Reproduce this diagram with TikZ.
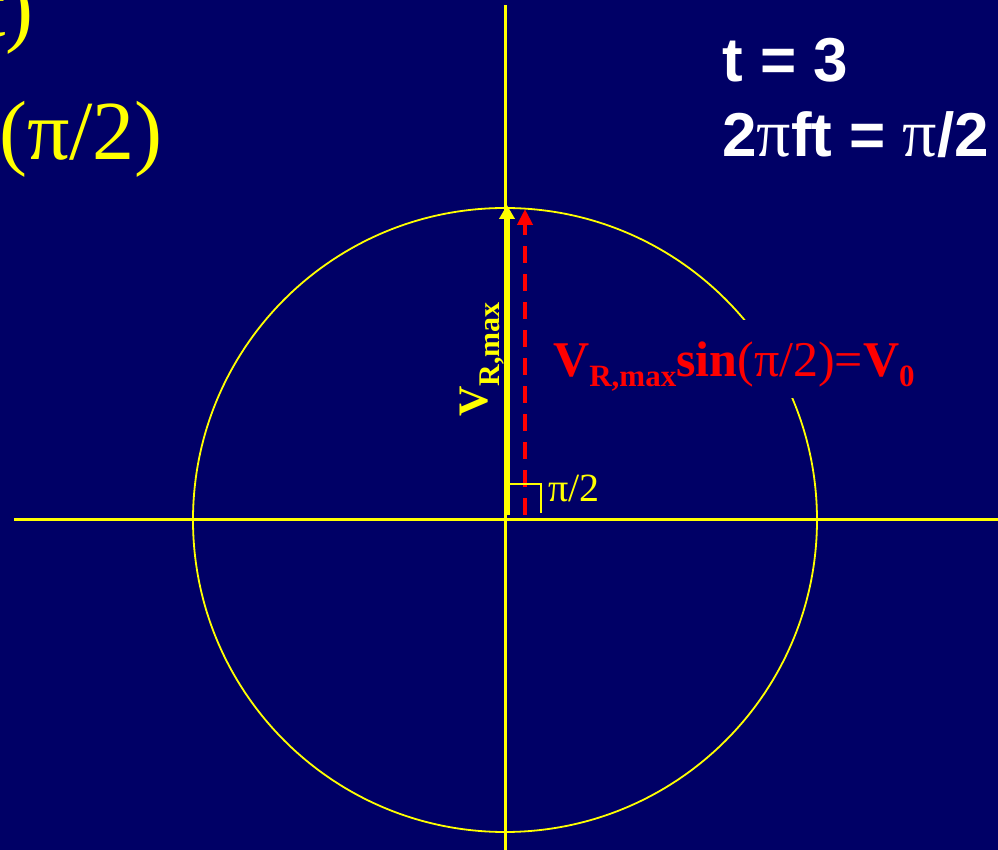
\documentclass[tikz,border=0pt]{standalone}
\usepackage{fontspec}
\setmainfont{Liberation Serif}
\setsansfont{Liberation Sans}
\usetikzlibrary{arrows.meta,positioning}
\definecolor{slide}{HTML}{000066}
\definecolor{phasor}{HTML}{FFFF00}
\definecolor{proj}{HTML}{FF0000}

\begin{document}
\begin{tikzpicture}[>=Stealth,x=1pt,y=1pt]
 \tikzstyle{axis}=[phasor,line width=3pt]
 \tikzstyle{ring}=[phasor,line width=1.8pt]
 \tikzstyle{vec}=[phasor,line width=6pt,-{Triangle[length=14pt,width=15pt]}]
 \tikzstyle{projvec}=[proj,line width=4pt,dash pattern=on 17pt off 11pt,-{Triangle[length=16pt,width=15pt]}]
 \tikzstyle{bigtxt}=[inner sep=0pt,font=\fontsize{84}{84}\selectfont,text=phasor]
 \tikzstyle{timetxt}=[inner sep=0pt,font=\fontsize{62}{62}\selectfont\sffamily\bfseries,text=white]
 \fill[slide] (-505,-330) rectangle (493,520);
 \useasboundingbox (-505,-330) rectangle (493,520);
 % axes and circle
 \coordinate (O) at (0,0);
 \coordinate (west) at (-491,0);
 \coordinate (east) at (493,0);
 \coordinate (north) at (0,515);
 \coordinate (south) at (0,-330);
 \draw[ring] (O) circle (312);
 \draw[axis] (west) -- (east);
 \draw[axis] (south) -- (north);
 % projection label, its box hides part of the circle
 \node[anchor=base west,inner sep=0pt,fill=slide,text height=57pt,text depth=21pt,text=proj,font=\fontsize{50}{50}\selectfont] (projlbl) at (48,143)
   {\textbf{V}\raisebox{-10pt}{\fontsize{31}{31}\selectfont\textbf{R,max}}\textbf{sin}(π/2)=\textbf{V}\raisebox{-10pt}{\fontsize{31}{31}\selectfont\textbf{0}}};
 % phasor and its projection
 \coordinate (vbase) at (2,5);
 \coordinate (vtip) at (2,315);
 \coordinate (pbase) at (20,5);
 \coordinate (ptip) at (20,311);
 \draw[vec] (vbase) -- (vtip);
 \draw[projvec] (pbase) -- (ptip);
 \node[rotate=90,anchor=base west,inner sep=0pt,font=\fontsize{42}{42}\selectfont\bfseries,text=phasor] (vmax) at (-17,103)
   {V\raisebox{-12pt}{\fontsize{30}{30}\selectfont R,max}};
 % right angle
 \coordinate (r1) at (5,36);
 \coordinate (r2) at (36,36);
 \coordinate (r3) at (36,7);
 \draw[phasor,line width=1.5pt] (r1) -- (r2) -- (r3);
 \node[anchor=base west,inner sep=0pt,font=\fontsize{40}{40}\selectfont,text=phasor] (ang) at (43,18) {π/2};
 % slide texts
 \node[bigtxt,anchor=base east] (prevline) at (-471,483) {t)};
 \node[bigtxt,anchor=base west] (phasetxt) at (-506,360) {(π/2)};
 \node[timetxt,anchor=base west] (tval) at (217,438) {t = 3};
 \node[timetxt,anchor=base west] (phase) at (217,363) {2{\rmfamily\mdseries\fontsize{68}{68}\selectfont π}ft = {\rmfamily\mdseries\fontsize{68}{68}\selectfont π}/2};
\end{tikzpicture}
\end{document}
